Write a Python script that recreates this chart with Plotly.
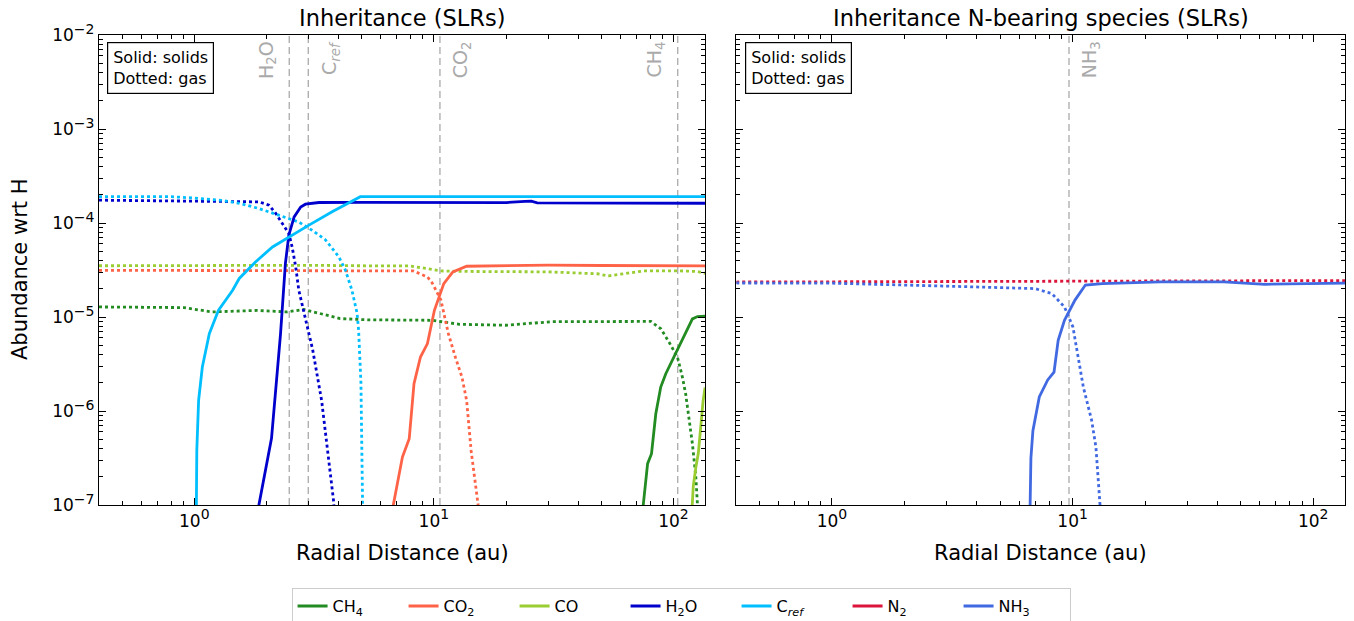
import numpy as np
import plotly.graph_objects as go

# ---------------- data: radial distance (au) and log10(abundance wrt H) ----------------
# Left panel
ch4_solid_r = [73.5, 74.8, 78, 81, 84.4, 88.5, 92.9, 99, 105.6, 112.5, 120, 126, 135.5]
ch4_solid_log = [-7.3, -7.0, -6.56, -6.455, -6.03, -5.745, -5.603, -5.46, -5.30, -5.16, -5.02, -4.995, -4.99]
ch4_gas_r = [0.40, 0.76, 0.905, 1.18, 1.83, 2.44, 2.86, 3.31, 4.06, 5.3, 9.85, 12.8, 19.9, 31, 75,
             80.5, 88.6, 96, 104, 109, 112.5, 116, 120, 124, 126.7, 128]
ch4_gas_log = [-4.893, -4.893, -4.90, -4.946, -4.93, -4.946, -4.92, -4.96, -5.017, -5.03, -5.035, -5.078,
               -5.088, -5.05, -5.046, -5.047, -5.125, -5.27, -5.43, -5.64, -5.82, -6.065, -6.35, -6.70, -7.0, -7.3]

co2_solid_r = [6.6, 6.77, 7.39, 7.89, 8.26, 8.79, 9.4, 10.05, 11.0, 12.0, 13.7, 20, 30, 50, 135.5]
co2_solid_log = [-7.3, -7.0, -6.49, -6.295, -5.71, -5.426, -5.283, -4.929, -4.645, -4.52, -4.46,
                 -4.452, -4.448, -4.452, -4.457]
co2_gas_r = [0.40, 1, 3, 5, 8.2, 9.4, 9.85, 10.7, 11.5, 12.3, 13.1, 13.7, 14.3, 15.3, 15.6]
co2_gas_log = [-4.503, -4.503, -4.503, -4.503, -4.51, -4.574, -4.64, -4.82, -5.18, -5.43, -5.64,
               -5.89, -6.42, -7.0, -7.3]

co_solid_r = [118, 121, 124, 127, 133, 135.5]
co_solid_log = [-7.3, -6.8, -6.6, -6.45, -5.89, -5.75]
co_gas_r = [0.40, 1, 3, 5, 7.9, 9.4, 10.7, 12.8, 20, 30, 48, 53.5, 60, 75, 107, 125, 135.5]
co_gas_log = [-4.455, -4.45, -4.45, -4.455, -4.457, -4.485, -4.51, -4.515, -4.515, -4.52, -4.54,
              -4.563, -4.545, -4.51, -4.51, -4.515, -4.535]

h2o_solid_r = [1.80, 1.86, 2.10, 2.29, 2.40, 2.48, 2.61, 2.78, 2.91, 3.31, 5, 10, 15, 20, 24,
               25.5, 27, 50, 135.5]
h2o_solid_log = [-7.3, -7.0, -6.29, -5.18, -4.43, -4.13, -3.935, -3.83, -3.80, -3.782, -3.78,
                 -3.785, -3.786, -3.783, -3.77, -3.768, -3.785, -3.787, -3.79]
h2o_gas_r = [0.40, 1.0, 1.86, 2.05, 2.19, 2.33, 2.48, 2.56, 2.65, 2.73, 2.87, 2.96, 3.12, 3.40, 3.81, 3.9]
h2o_gas_log = [-3.757, -3.765, -3.775, -3.81, -3.90, -4.005, -4.11, -4.255, -4.468, -4.716, -4.96,
               -5.106, -5.35, -5.89, -6.95, -7.3]

cref_solid_r = [1.0, 1.02, 1.024, 1.042, 1.08, 1.155, 1.26, 1.445, 1.54, 1.80, 2.12, 2.48, 3.01,
                3.76, 4.93, 135.5]
cref_solid_log = [-8.0, -7.0, -6.42, -5.887, -5.532, -5.177, -4.93, -4.716, -4.59, -4.414, -4.255,
                  -4.148, -4.023, -3.88, -3.72, -3.72]
cref_gas_r = [0.40, 0.8, 1.0, 1.3, 1.54, 1.86, 2.25, 2.73, 3.10, 3.53, 4.01, 4.27, 4.55, 4.78,
              4.85, 4.96, 5.07]
cref_gas_log = [-3.72, -3.72, -3.735, -3.76, -3.79, -3.846, -3.917, -3.99, -4.077, -4.18, -4.36,
                -4.50, -4.716, -4.96, -5.14, -5.7, -7.5]

# Right panel
n2_gas_r = [0.40, 1, 3, 10, 30, 135.5]
n2_gas_log = [-4.628, -4.625, -4.622, -4.618, -4.615, -4.612]
nh3_solid_r = [6.6, 6.66, 6.71, 6.84, 7.27, 7.88, 8.37, 8.71, 9.25, 10.23, 11.3, 13.3, 23.2, 42.5, 63, 135.5]
nh3_solid_log = [-7.3, -7.0, -6.5, -6.21, -5.85, -5.67, -5.586, -5.248, -5.035, -4.82, -4.66,
                 -4.645, -4.627, -4.627, -4.652, -4.64]
nh3_gas_r = [0.40, 1, 3.13, 6.98, 8.20, 9.25, 10.03, 11.08, 12.0, 12.5, 13.0, 13.2]
nh3_gas_log = [-4.638, -4.64, -4.673, -4.698, -4.751, -4.893, -5.106, -5.745, -6.1, -6.384, -7.0, -7.3]

# Snowlines (au)
snow_left_names = ["H<sub>2</sub>O", "C<sub><i>ref</i></sub>", "CO<sub>2</sub>", "CH<sub>4</sub>"]
snow_left_r = [2.49, 2.99, 10.6, 104.2]
snow_left_side = ["left", "right", "right", "left"]
snow_right_names = ["NH<sub>3</sub>"]
snow_right_r = [9.66]
snow_right_side = ["right"]

legend_names = ["CH<sub>4</sub>", "CO<sub>2</sub>", "CO", "H<sub>2</sub>O", "C<sub><i>ref</i></sub>",
                "N<sub>2</sub>", "NH<sub>3</sub>"]
colors = {"CH4": "#228B22", "CO2": "#FF6347", "CO": "#9ACD32", "H2O": "#0000CD",
          "Cref": "#00BFFF", "N2": "#DC143C", "NH3": "#4169E1"}

titles = ["Inheritance (SLRs)", "Inheritance N-bearing species (SLRs)"]
x_label = "Radial Distance (au)"
y_label = "Abundance wrt H"

x_tickvals = [1, 10, 100]
x_exps = ["0", "1", "2"]
y_tickvals = [1e-7, 1e-6, 1e-5, 1e-4, 1e-3, 1e-2]
y_exps = ["\u22127", "\u22126", "\u22125", "\u22124", "\u22123", "\u22122"]
minor_digits = [2, 3, 4, 5, 6, 7, 8, 9]


def power_labels(exps):
    return ["10<sup><span style='font-size:14px'>%s</span></sup>" % e for e in exps]


FONT = "DejaVu Sans"
LW = 2.8
DOT = "3px,3px"

fig = go.Figure()


def add(r, lg, color, dotted, xa, ya):
    fig.add_trace(go.Scatter(
        x=r, y=np.power(10.0, np.array(lg)), mode="lines", xaxis=xa, yaxis=ya,
        line=dict(color=color, width=LW, dash=DOT if dotted else "solid"),
        showlegend=False, hoverinfo="skip"))


# left panel
add(ch4_gas_r, ch4_gas_log, colors["CH4"], True, "x", "y")
add(co2_gas_r, co2_gas_log, colors["CO2"], True, "x", "y")
add(co_gas_r, co_gas_log, colors["CO"], True, "x", "y")
add(h2o_gas_r, h2o_gas_log, colors["H2O"], True, "x", "y")
add(cref_gas_r, cref_gas_log, colors["Cref"], True, "x", "y")
add(ch4_solid_r, ch4_solid_log, colors["CH4"], False, "x", "y")
add(co2_solid_r, co2_solid_log, colors["CO2"], False, "x", "y")
add(co_solid_r, co_solid_log, colors["CO"], False, "x", "y")
add(h2o_solid_r, h2o_solid_log, colors["H2O"], False, "x", "y")
add(cref_solid_r, cref_solid_log, colors["Cref"], False, "x", "y")
# right panel
add(n2_gas_r, n2_gas_log, colors["N2"], True, "x2", "y2")
add(nh3_gas_r, nh3_gas_log, colors["NH3"], True, "x2", "y2")
add(nh3_solid_r, nh3_solid_log, colors["NH3"], False, "x2", "y2")

# legend entries
for name, key in zip(legend_names, ["CH4", "CO2", "CO", "H2O", "Cref", "N2", "NH3"]):
    fig.add_trace(go.Scatter(x=[None], y=[None], mode="lines", name=name,
                             line=dict(color=colors[key], width=3), showlegend=True))

GRAY = "#aaaaaa"
shapes = []
annotations = []
for names, rs, sides, xa, ya in [(snow_left_names, snow_left_r, snow_left_side, "x", "y"),
                                 (snow_right_names, snow_right_r, snow_right_side, "x2", "y2")]:
    for nm, r, side in zip(names, rs, sides):
        shapes.append(dict(type="line", xref=xa, yref=ya + " domain", x0=r, x1=r, y0=0, y1=1,
                           line=dict(color=GRAY, width=1.3, dash="7px,4px"), layer="below"))
        annotations.append(dict(text=nm, xref=xa, yref=ya + " domain", x=np.log10(r), y=0.991,
                                yanchor="top", xanchor="right" if side == "left" else "left",
                                xshift=-8 if side == "left" else 7, textangle=-90, showarrow=False,
                                font=dict(family=FONT, size=19, color=GRAY)))

for xa, ya, t in [("x", "y", titles[0]), ("x2", "y2", titles[1])]:
    annotations.append(dict(text="Solid: solids<br>Dotted: gas", xref=xa + " domain", yref=ya + " domain",
                            x=0.014, y=0.985, xanchor="left", yanchor="top", align="left",
                            showarrow=False, bgcolor="white", bordercolor="black", borderwidth=1.2,
                            borderpad=5, font=dict(family=FONT, size=16, color="black")))
    annotations.append(dict(text=t, xref=xa + " domain", yref="paper", x=0.5, y=1.0362,
                            xanchor="center", yanchor="middle", showarrow=False,
                            font=dict(family=FONT, size=22.5, color="black")))
    annotations.append(dict(text=x_label, xref=xa + " domain", yref="paper", x=0.5, y=-0.102,
                            xanchor="center", yanchor="middle", showarrow=False,
                            font=dict(family=FONT, size=21, color="black")))

annotations.append(dict(text=y_label, xref="paper", yref="paper", x=-0.0634, y=0.5, textangle=-90,
                        xanchor="center", yanchor="middle", showarrow=False,
                        font=dict(family=FONT, size=21, color="black")))

xr = [np.log10(0.40), np.log10(135.5)]
yr = [-7, -2]

x_minor = [d * 10.0 ** e for e in range(-1, 3) for d in minor_digits]
x_minor = [v for v in x_minor if 0.40 <= v <= 135.5]
y_minor = [d * 10.0 ** e for e in range(-7, -2) for d in minor_digits]

base = dict(type="log", showline=True, linecolor="black", linewidth=1.3, mirror="ticks",
            ticks="inside", ticklen=7, tickwidth=1.3, tickcolor="black", showgrid=False,
            zeroline=False, automargin=False, tickmode="array",
            tickfont=dict(family=FONT, size=17, color="black"))


def minor(vals):
    return dict(ticks="inside", ticklen=3.5, tickwidth=1, tickcolor="black",
                tickmode="array", tickvals=vals, showgrid=False)


fig.update_layout(
    width=1354, height=621,
    margin=dict(l=99, r=9, t=35, b=116),
    paper_bgcolor="white", plot_bgcolor="white",
    font=dict(family=FONT, color="black"),
    xaxis=dict(domain=[0, 0.4864], range=xr, anchor="y", tickvals=x_tickvals,
               ticktext=power_labels(x_exps), minor=minor(x_minor), **base),
    xaxis2=dict(domain=[0.5114, 1], range=xr, anchor="y2", tickvals=x_tickvals,
                ticktext=power_labels(x_exps), minor=minor(x_minor), **base),
    yaxis=dict(domain=[0, 1], range=yr, anchor="x", tickvals=y_tickvals,
               ticktext=power_labels(y_exps), minor=minor(y_minor), **base),
    yaxis2=dict(domain=[0, 1], range=yr, anchor="x2", tickvals=y_tickvals,
                ticktext=power_labels(y_exps), showticklabels=False, minor=minor(y_minor), **base),
    shapes=shapes, annotations=annotations,
    legend=dict(orientation="h", x=0.503, xref="container", xanchor="center",
                y=0.0531, yref="container", yanchor="top",
                bordercolor="#cccccc", borderwidth=1, bgcolor="white",
                font=dict(family=FONT, size=16, color="black"),
                itemwidth=30, entrywidth=66),
)

# remove the browser's default 8px page margin so the figure fills the window exactly
fig.write_html("out.html", config={"displayModeBar": False},
               post_script="document.body.style.margin='0px';")
